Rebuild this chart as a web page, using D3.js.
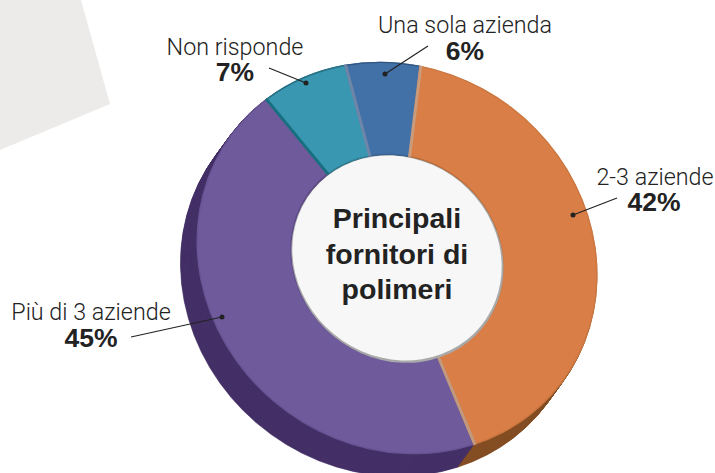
<!DOCTYPE html>
<html><head><meta charset="utf-8">
<script src="https://cdn.jsdelivr.net/npm/d3@7/dist/d3.min.js"></script>
<style>html,body{margin:0;padding:0;background:#fff}svg{display:block}</style>
</head><body><svg id="c" width="715" height="473"></svg>
<script>
const categories = ["2-3 aziende","Più di 3 aziende","Non risponde","Una sola azienda"];
const values = [42,45,7,6];
const valueLabels = ["42%","45%","7%","6%"];
const topColors = ["#d97e46","#6f5a9c","#3a97b2","#4271a8"];
const sideColors = ["#854e24","#443066","#1f5f70","#2a4a72"];
const edgeColors = ["#c99a7c","#c09a80","#17707f","#6f86a8"];
const centerTitle = ["Principali","fornitori di","polimeri"];

(function(){
const cx=397,cy=258,R=200,r=105,axisA=1.035,axisB=0.9475,tilt=38,depthX=-16,depthY=22,STEPS=30;
const svg=d3.select("#c");
const labelFont="Roboto, 'Liberation Sans', sans-serif", boldFont="'Liberation Sans', Arial, sans-serif";
svg.append("polygon").attr("points","0,0 81,0 110,104 0,150").attr("fill","#ecebe9");

const start=8.8*Math.PI/180;
const pie=d3.pie().sort(null).value(d=>d).startAngle(start).endAngle(start+2*Math.PI);
const arcs=pie(values);
const arc=d3.arc().innerRadius(r).outerRadius(R);
const outerRim=d3.arc().innerRadius(R-1.4).outerRadius(R);
const innerRim=d3.arc().innerRadius(r).outerRadius(r+1.5);
const warp=`rotate(${tilt}) scale(${axisA},${axisB}) rotate(${-tilt})`;

// extruded side
const side=svg.append("g");
d3.range(STEPS,0,-1).forEach(s=>{
  const t=s/STEPS;
  side.append("g").attr("transform",`translate(${cx+depthX*t},${cy+depthY*t}) ${warp}`)
   .selectAll("path").data(arcs).join("path").attr("d",arc)
   .attr("fill",(d,i)=>sideColors[i]).attr("stroke",(d,i)=>sideColors[i]).attr("stroke-width",0.6);
});
// top face
const face=svg.append("g").attr("transform",`translate(${cx},${cy}) ${warp}`);
face.selectAll("path.s").data(arcs).join("path").attr("class","s").attr("d",arc)
  .attr("fill",(d,i)=>topColors[i]);
face.selectAll("path.o").data(arcs).join("path").attr("class","o").attr("d",outerRim)
  .attr("fill",(d,i)=>sideColors[i]).attr("opacity",(d,i)=>i>=2?0.7:0.15);
face.selectAll("path.n").data(arcs).join("path").attr("class","n").attr("d",innerRim)
  .attr("fill",(d,i)=>sideColors[i]).attr("opacity",0.35);
// edge strips at the start of each slice
const edgeW=[3,3,3,3];
const edgeOff=[0.008,-0.008,-0.006,0.006];
arcs.forEach((d,i)=>{
  const q0=d3.pointRadial(d.startAngle+edgeOff[i],r), q1=d3.pointRadial(d.startAngle+edgeOff[i],R);
  face.append("line").attr("x1",q0[0]).attr("y1",q0[1]).attr("x2",q1[0]).attr("y2",q1[1])
   .attr("stroke",edgeColors[i]).attr("stroke-width",edgeW[i]);
});
// centre disc
face.append("circle").attr("cx",0.4).attr("cy",1).attr("r",r+0.8).attr("fill","#a9a9a9");
face.append("circle").attr("r",r-0.6).attr("fill","#f7f7f7");
svg.append("g").selectAll("text").data(centerTitle).join("text")
  .attr("x",397).attr("y",(d,i)=>228+i*35.5).attr("text-anchor","middle")
  .attr("font-family",boldFont).attr("font-weight",700).attr("font-size",28.5).attr("fill","#222").text(d=>d);

// labels
const labelPos=[[655,185,654,211],[91,320,91,347],[235,55,235,81],[465,33,465,60]];
const leaders=[[617,198,573,215],[131,337,222,317],[269,68,306,83],[428,46,385,74]];
const g=svg.append("g");
categories.forEach((c,i)=>{
  const p=labelPos[i],l=leaders[i];
  g.append("text").attr("x",p[0]).attr("y",p[1]).attr("text-anchor","middle")
   .attr("font-family",labelFont).attr("font-weight",300).attr("font-size",23.3).attr("fill","#222").text(c);
  g.append("text").attr("x",p[2]).attr("y",p[3]).attr("text-anchor","middle")
   .attr("font-family",boldFont).attr("font-weight",700).attr("font-size",26.5).attr("fill","#222").text(valueLabels[i]);
  g.append("line").attr("x1",l[0]).attr("y1",l[1]).attr("x2",l[2]).attr("y2",l[3]).attr("stroke","#222").attr("stroke-width",1.2);
  g.append("circle").attr("cx",l[2]).attr("cy",l[3]).attr("r",2.5).attr("fill","#222");
});
})();
</script></body></html>
